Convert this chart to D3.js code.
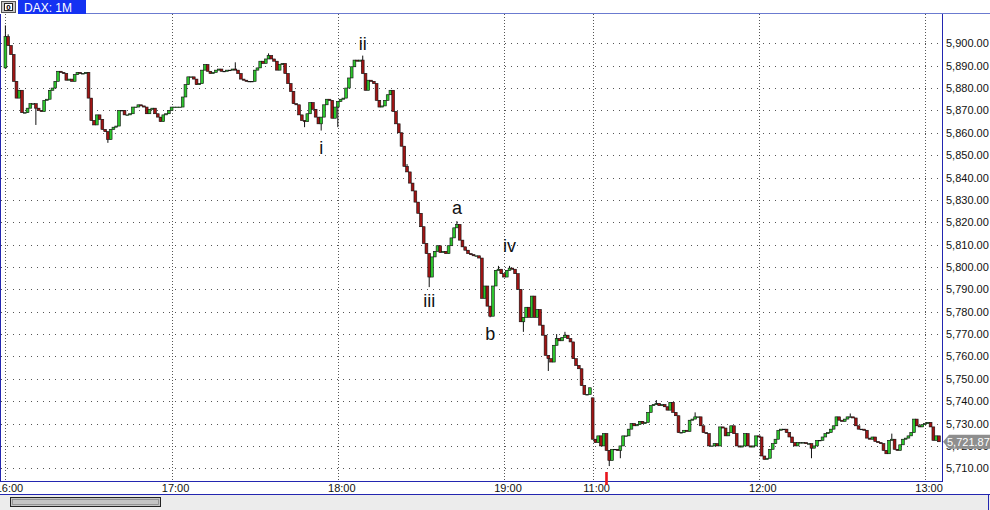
<!DOCTYPE html>
<html>
<head>
<meta charset="utf-8">
<title>DAX: 1M</title>
<script src="https://d3js.org/d3.v7.min.js"></script>
<style>
  body { margin: 0; background: #fff; }
  svg { display: block; font-family: "Liberation Sans", Arial, sans-serif; }
</style>
</head>
<body>
<svg id="chart" width="990" height="510"></svg>
<script>
// hour labels and the bar slot where each one sits
var hourLabels = ["16:00", "17:00", "18:00", "19:00", "11:00", "12:00", "13:00"];
var hourSlots = [0, 60, 120, 180, 212, 272, 332];

// first session 16:00 - 19:31, closes per minute
var closesDay1 = [
  5903, 5899, 5895, 5883, 5875.5, 5879, 5869, 5869, 5871, 5873,
  5873, 5871, 5870, 5869.5, 5874.5, 5875, 5879, 5880, 5883, 5887.5,
  5887, 5886.5, 5883.5, 5884, 5883, 5886, 5887, 5886.5, 5886.5, 5887,
  5875.5, 5865.5, 5863.5, 5868, 5866, 5861.5, 5860.5, 5857, 5861.5, 5862.5,
  5863, 5870, 5870, 5868, 5868, 5868.5, 5871.5, 5871.5, 5872.5, 5872,
  5871.5, 5868.5, 5870.5, 5871, 5868.5, 5867, 5865, 5868, 5868.5, 5870,
  5871.5, 5871.5, 5871.5, 5871.5, 5876, 5881.5, 5885, 5885, 5884, 5881.5,
  5882, 5888, 5890.5, 5887.5, 5886.5, 5887, 5888, 5888.5, 5887.5, 5887.5,
  5888, 5888, 5888.5, 5888, 5886.5, 5884, 5883.5, 5883, 5883, 5883,
  5888, 5889, 5892, 5891, 5893, 5894.5, 5893, 5892, 5888, 5890.5,
  5891, 5886.5, 5882, 5878.5, 5873, 5872.5, 5868, 5865.5, 5865, 5868.5,
  5873.5, 5870.5, 5867, 5864, 5867, 5872.5, 5875, 5874.5, 5866.5, 5871.5,
  5874, 5875, 5875.5, 5880, 5884.5, 5889.5, 5892.5, 5892, 5892.5, 5886.5,
  5879, 5883.5, 5883, 5882, 5874.5, 5871.5, 5872, 5874.5, 5877, 5879,
  5869.5, 5864, 5860, 5854, 5845, 5842.5, 5837.5, 5834, 5829, 5824,
  5818, 5810.5, 5806, 5795.5, 5804.5, 5807, 5809.5, 5806.5, 5807, 5806,
  5809.5, 5813, 5817.5, 5819, 5812, 5809, 5807.5, 5806, 5805.5, 5805,
  5805, 5804, 5786, 5791.5, 5782.5, 5778, 5791.5, 5798.5, 5799, 5797,
  5795.5, 5798.5, 5799.5, 5799, 5797, 5790, 5775.5, 5777.5, 5782, 5777.5,
  5787, 5777.5, 5781, 5774, 5769.5, 5760.5, 5759, 5757.5, 5765, 5768,
  5767, 5768.5, 5769.5, 5768, 5766.5, 5759, 5756, 5754.5, 5747, 5743,
  5743, 5746
];
var openDay1 = 5889;

// second session 11:00 - 13:05
var closesDay2 = [
  5723, 5721.5, 5724.5, 5720, 5725.5, 5718, 5713.5, 5718.5, 5718.5, 5718,
  5720, 5724.5, 5724.5, 5727.5, 5730, 5729, 5729.5, 5731, 5730, 5730.5,
  5735, 5738, 5738.5, 5739, 5738, 5738.5, 5737.5, 5736, 5739.5, 5735,
  5733.5, 5726, 5726, 5727, 5726.5, 5731.5, 5732, 5733, 5733, 5729,
  5726, 5725.5, 5720, 5720, 5721, 5720, 5728.5, 5728, 5724.5, 5726,
  5729, 5725.5, 5720, 5719.5, 5720, 5725.5, 5720, 5719.5, 5720, 5724.5,
  5724, 5715.5, 5714, 5714.5, 5718.5, 5721, 5723, 5727, 5727.5, 5727.5,
  5726, 5724, 5721.5, 5720, 5721.5, 5721.5, 5721.5, 5721, 5721, 5719,
  5720, 5722.5, 5722.5, 5724, 5725.5, 5726, 5727.5, 5729, 5733, 5731.5,
  5731, 5732, 5733, 5733, 5732.5, 5729, 5727.5, 5727.5, 5727, 5723.5,
  5723, 5724, 5722, 5721.5, 5721, 5718, 5716.5, 5722.5, 5723, 5718.5,
  5718, 5720.5, 5723, 5723.5, 5724.5, 5726, 5732, 5729, 5728.5, 5729.5,
  5730, 5730.5, 5728.5, 5722.5, 5724.5, 5721.87
];
var openDay2 = 5741.5;

// visible wick ends [slot, price]
var wickHighs = [[0, 5908], [1, 5904], [83, 5891.5], [95, 5895.5], [129, 5894.5], [145, 5846],
  [163, 5820.5], [178, 5800.5], [182, 5800.5], [199, 5770], [202, 5771],
  [235, 5740.5], [249, 5735], [305, 5734.5], [320, 5725.5]];
var wickLows = [[11, 5863.5], [37, 5855.5], [108, 5862.5], [114, 5861], [120, 5862.5], [153, 5791],
  [175, 5777.5], [187, 5771], [196, 5753.5], [218, 5711], [222, 5714.5], [291, 5714.5]];

// elliott wave labels [text, slot, price at baseline]
var waveLabels = [["ii", 129, 5897.2], ["i", 114, 5850.5], ["iii", 153, 5782.3],
  ["a", 163, 5823.7], ["iv", 182, 5806.8], ["b", 175, 5767.4]];

var priceTicks = d3.range(5710, 5901, 10);
var lastPrice = 5721.87;
var lowSlot = 217;

// build candles
var candles = [];
var prev = openDay1;
closesDay1.forEach(function(c, i) { candles.push({ slot: i, o: prev, c: c }); prev = c; });
prev = openDay2;
closesDay2.forEach(function(c, i) { candles.push({ slot: 212 + i, o: prev, c: c }); prev = c; });
var hiMap = new Map(wickHighs), loMap = new Map(wickLows);
candles.forEach(function(d) {
  d.h = hiMap.has(d.slot) ? hiMap.get(d.slot) : Math.max(d.o, d.c);
  d.l = loMap.has(d.slot) ? loMap.get(d.slot) : Math.min(d.o, d.c);
});

var svg = d3.select("#chart");
var frame = "#2326b0";
var plotR = 942, plotT = 14, plotB = 481;

var x = d3.scaleLinear().domain([0, 337]).range([5.4, 5.4 + 2.77 * 337]);
var y = d3.scaleLinear().domain([5710, 5900]).range([468.3, 43.3]);

// top strip
svg.append("rect").attr("x", 1.5).attr("y", 1.5).attr("width", 14).attr("height", 11)
  .attr("fill", "#c8c8c8").attr("stroke", "#555");
svg.append("rect").attr("x", 4.5).attr("y", 3.5).attr("width", 8).attr("height", 7)
  .attr("fill", "#fff").attr("stroke", "#222");
svg.append("text").attr("x", 8.5).attr("y", 10).attr("text-anchor", "middle")
  .attr("font-size", 8).attr("font-weight", "bold").text("0");
svg.append("rect").attr("x", 18).attr("y", 0).attr("width", 68).attr("height", 14).attr("fill", "#1432f2");
svg.append("text").attr("x", 24).attr("y", 11.5).attr("fill", "#fff").attr("font-size", 12).text("DAX: 1M");
svg.append("line").attr("x1", 86).attr("x2", 990).attr("y1", 13.5).attr("y2", 13.5).attr("stroke", "#6b7bd0");

var plot = svg.append("g");
plot.append("defs").append("clipPath").attr("id", "clip")
  .append("rect").attr("x", 1).attr("y", plotT).attr("width", plotR - 1).attr("height", plotB - plotT);

// grid
plot.append("g").selectAll("line").data(priceTicks).join("line")
  .attr("x1", 1).attr("x2", plotR).attr("y1", function(d) { return Math.round(y(d)) + 0.5; })
  .attr("y2", function(d) { return Math.round(y(d)) + 0.5; })
  .attr("stroke", "#555").attr("stroke-dasharray", "1,5");
plot.append("g").selectAll("line").data(hourSlots).join("line")
  .attr("x1", function(d) { return Math.round(x(d)) + 0.5; }).attr("x2", function(d) { return Math.round(x(d)) + 0.5; })
  .attr("y1", plotT).attr("y2", plotB).attr("stroke", "#555").attr("stroke-dasharray", "1,2");

// candles
var cg = plot.append("g").attr("clip-path", "url(#clip)");
cg.selectAll("line").data(candles).join("line")
  .attr("x1", function(d) { return x(d.slot); }).attr("x2", function(d) { return x(d.slot); })
  .attr("y1", function(d) { return y(d.h); }).attr("y2", function(d) { return y(d.l); })
  .attr("stroke", "#111").attr("stroke-width", 1);
cg.selectAll("rect").data(candles).join("rect")
  .attr("x", function(d) { return x(d.slot) - 1.4; }).attr("width", 2.8)
  .attr("y", function(d) { return y(Math.max(d.o, d.c)); })
  .attr("height", function(d) { return Math.max(0.6, Math.abs(y(d.o) - y(d.c))); })
  .attr("fill", function(d) { return d.c >= d.o ? "#2cc42c" : "#a01414"; })
  .attr("stroke", "#111").attr("stroke-width", 0.6);

// wave labels
plot.append("g").selectAll("text").data(waveLabels).join("text")
  .attr("x", function(d) { return x(d[1]); }).attr("y", function(d) { return y(d[2]); })
  .attr("text-anchor", "middle").attr("font-size", 18).attr("fill", "#111")
  .text(function(d) { return d[0]; });

// frame
svg.append("line").attr("x1", 0.5).attr("x2", 0.5).attr("y1", plotT).attr("y2", plotB).attr("stroke", frame);
svg.append("line").attr("x1", plotR + 0.5).attr("x2", plotR + 0.5).attr("y1", plotT).attr("y2", plotB).attr("stroke", frame);
svg.append("line").attr("x1", 0).attr("x2", plotR + 1).attr("y1", plotB + 0.5).attr("y2", plotB + 0.5).attr("stroke", frame);

// price axis
var fmt = d3.format(",.2f");
svg.append("g").selectAll("text").data(priceTicks).join("text")
  .attr("x", 946).attr("y", function(d) { return y(d) + 4; })
  .attr("font-size", 11).attr("fill", "#111").text(fmt);

// last price tag
var ly = y(lastPrice);
svg.append("path")
  .attr("d", "M943," + ly + " L949," + (ly - 7) + " L990," + (ly - 7) + " L990," + (ly + 7) + " L949," + (ly + 7) + " Z")
  .attr("fill", "#8e8e8e");
svg.append("text").attr("x", 947).attr("y", ly + 4).attr("font-size", 11).attr("fill", "#fff").text(fmt(lastPrice));

// time axis
svg.append("g").selectAll("text").data(hourSlots).join("text")
  .attr("x", function(d) { return x(d) + 4; }).attr("y", 491.5)
  .attr("text-anchor", "middle").attr("font-size", 11).attr("fill", "#111")
  .text(function(d, i) { return hourLabels[i]; });
svg.append("rect").attr("x", x(lowSlot) - 1.3).attr("y", 472).attr("width", 2.6).attr("height", 13).attr("fill", "#e8141c");

// scroll strip
svg.append("line").attr("x1", 0).attr("x2", 990).attr("y1", 494.5).attr("y2", 494.5).attr("stroke", frame);
svg.append("rect").attr("x", 0).attr("y", 495).attr("width", 990).attr("height", 15).attr("fill", "#ececec");
svg.append("line").attr("x1", 988.5).attr("x2", 988.5).attr("y1", 495).attr("y2", 510).attr("stroke", frame);
svg.append("rect").attr("x", 10.5).attr("y", 497.5).attr("width", 150).attr("height", 9)
  .attr("fill", "#c4c4c4").attr("stroke", "#222");
svg.append("rect").attr("x", 12.5).attr("y", 499.5).attr("width", 146).attr("height", 5)
  .attr("fill", "none").attr("stroke", "#888").attr("stroke-width", 0.8);
</script>
</body>
</html>
